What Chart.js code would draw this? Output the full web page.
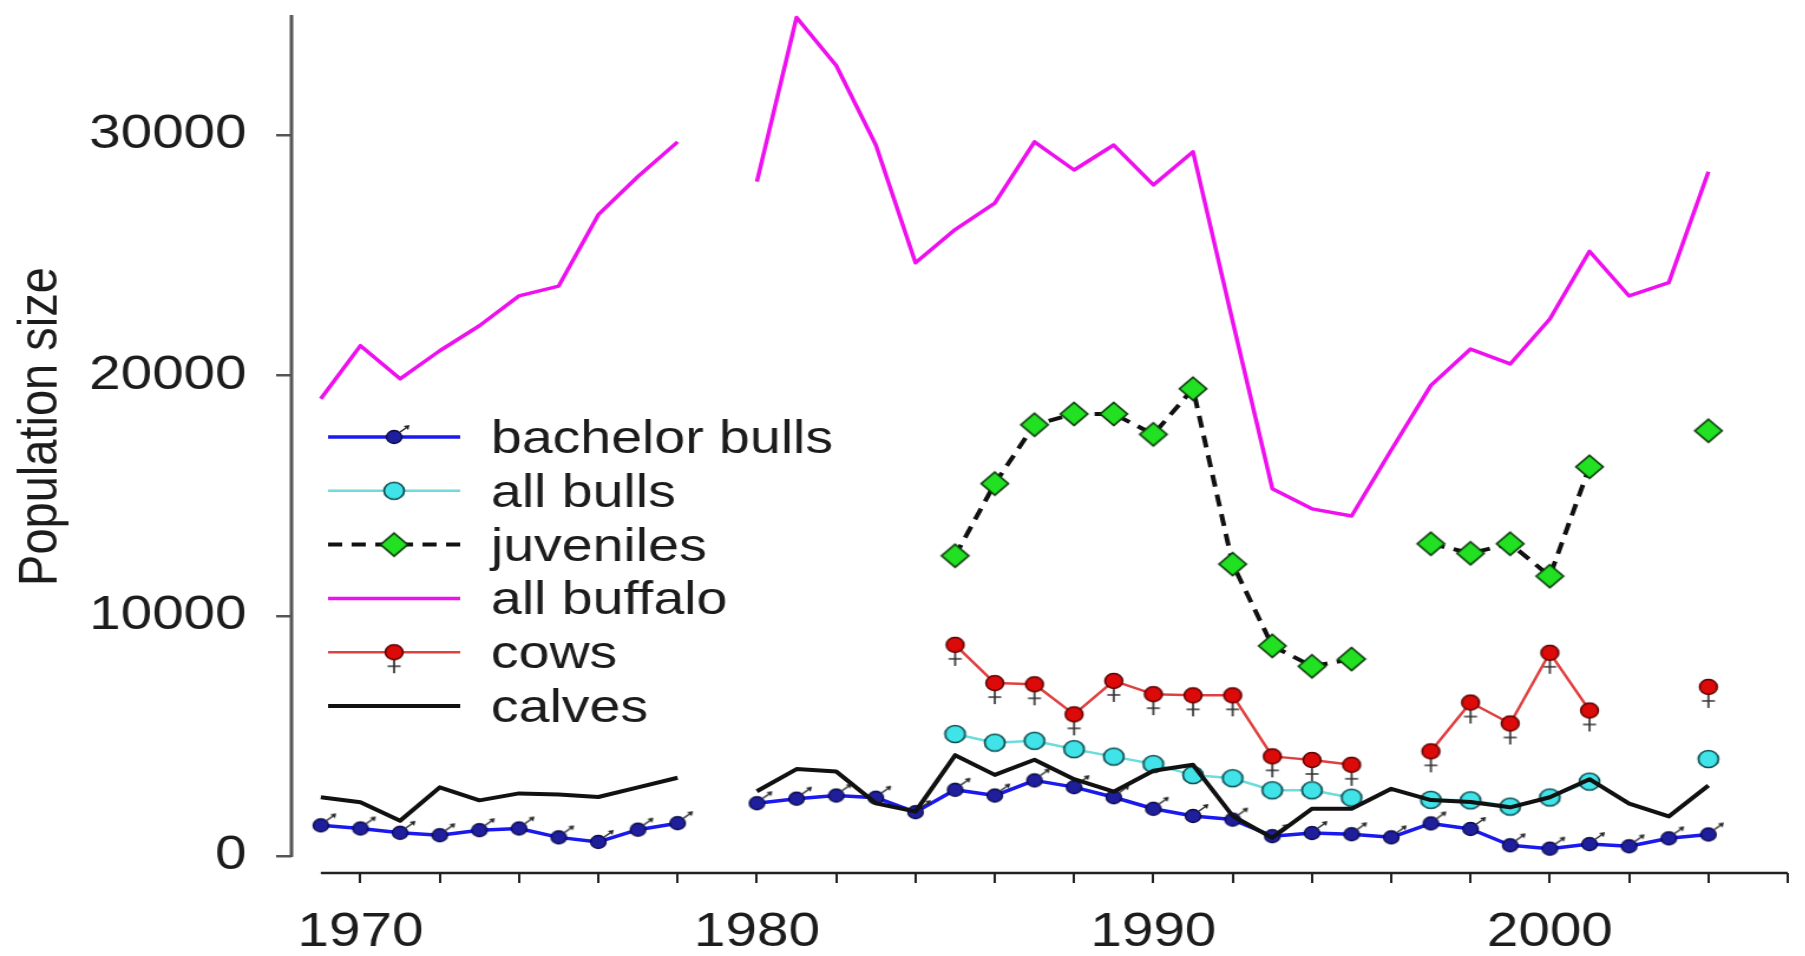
<!DOCTYPE html>
<html>
<head>
<meta charset="utf-8">
<title>Buffalo population size</title>
<script src="https://cdn.jsdelivr.net/npm/chart.js@4.4.1/dist/chart.umd.min.js"></script>
<style>
  html, body { margin: 0; padding: 0; background: #fff; overflow: hidden; }
  /* the original figure is stretched sideways, so the canvas is too */
  #wrap { width: 1530px; height: 956px; transform: scaleX(1.18); transform-origin: 0 0; }
</style>
</head>
<body>
<div id="wrap"><canvas id="chart" width="1530" height="956"></canvas></div>
<script>
const years = [1969, 1970, 1971, 1972, 1973, 1974, 1975, 1976, 1977, 1978, 1979,
  1980, 1981, 1982, 1983, 1984, 1985, 1986, 1987, 1988, 1989,
  1990, 1991, 1992, 1993, 1994, 1995, 1996, 1997, 1998, 1999,
  2000, 2001, 2002, 2003, 2004];

const bachelorBulls = [1280, 1150, 970, 870, 1080, 1150, 780, 590, 1100, 1370, null,
  2200, 2390, 2520, 2430, 1830, 2760, 2520, 3150, 2870, 2450,
  1970, 1670, 1520, 830, 960, 910, 780, 1360, 1130, 450,
  310, 500, 410, 740, 900];
const allBulls = [null, null, null, null, null, null, null, null, null, null, null,
  null, null, null, null, null, 5080, 4720, 4800, 4450, 4140,
  3830, 3370, 3240, 2740, 2740, 2430, null, 2340, 2320, 2060,
  2440, 3100, null, null, 4040];
const juveniles = [null, null, null, null, null, null, null, null, null, null, null,
  null, null, null, null, null, 12500, 15500, 17950, 18400, 18400,
  17550, 19450, 12150, 8750, 7900, 8200, null, 13000, 12600, 13000,
  11650, 16200, null, null, 17700];
const allBuffalo = [19030, 21240, 19860, 21030, 22070, 23310, 23720, 26690, 28280, 29720, null,
  28070, 34900, 32900, 29590, 24690, 26070, 27170, 29720, 28550, 29590,
  27930, 29310, 22250, 15290, 14450, 14150, 16900, 19590, 21100, 20480,
  22350, 25170, 23310, 23860, 28480];
const cows = [null, null, null, null, null, null, null, null, null, null, null,
  null, null, null, null, null, 8790, 7200, 7150, 5900, 7290,
  6740, 6690, 6690, 4150, 4000, 3800, null, 4360, 6390, 5520,
  8460, 6060, null, null, 7040];
const calves = [2450, 2240, 1470, 2860, 2320, 2610, 2560, 2460, 2860, 3260, null,
  2700, 3620, 3520, 2200, 1850, 4200, 3380, 4010, 3200, 2680,
  3550, 3800, 1670, 760, 1970, 1970, 2800, 2330, 2250, 2030,
  2450, 3200, 2180, 1650, 2940];

const yTicks = [0, 10000, 20000, 30000];
const xTicks = [1970, 1972, 1974, 1976, 1978, 1980, 1982, 1984, 1986, 1988,
  1990, 1992, 1994, 1996, 1998, 2000, 2002, 2004, 2006];
const xLabels = [1970, 1980, 1990, 2000];
const yTitle = 'Population size';

const FONT = '"Liberation Sans", Arial, Helvetica, sans-serif';
const TEXT = '#1c1c1c';
Chart.defaults.font.family = FONT;

// small canvases used as point symbols
function makeMarker(w, h, draw) {
  const c = document.createElement('canvas');
  c.width = w;
  c.height = h;
  draw(c.getContext('2d'), w / 2, h / 2);
  return c;
}

// male sign: navy dot with little arrow
const maleMarker = makeMarker(32, 32, (ctx, cx, cy) => {
  ctx.strokeStyle = '#222';
  ctx.lineWidth = 1.5;
  ctx.beginPath();
  ctx.moveTo(cx + 5, cy - 5);
  ctx.lineTo(cx + 10, cy - 9);
  ctx.stroke();
  ctx.fillStyle = '#222';
  ctx.beginPath();
  ctx.moveTo(cx + 13, cy - 12);
  ctx.lineTo(cx + 8, cy - 11);
  ctx.lineTo(cx + 12, cy - 7);
  ctx.closePath();
  ctx.fill();
  ctx.beginPath();
  ctx.arc(cx, cy, 6.5, 0, Math.PI * 2);
  ctx.fillStyle = '#1f1f9e';
  ctx.fill();
  ctx.lineWidth = 1.3;
  ctx.strokeStyle = '#0b0b45';
  ctx.stroke();
});

// female sign: red dot with a cross below
const femaleMarker = makeMarker(22, 46, (ctx, cx, cy) => {
  ctx.strokeStyle = '#333';
  ctx.lineWidth = 1.7;
  ctx.beginPath();
  ctx.moveTo(cx, cy + 8);
  ctx.lineTo(cx, cy + 21);
  ctx.moveTo(cx - 5.5, cy + 14);
  ctx.lineTo(cx + 5.5, cy + 14);
  ctx.stroke();
  ctx.beginPath();
  ctx.arc(cx, cy, 7.5, 0, Math.PI * 2);
  ctx.fillStyle = '#dd0a0a';
  ctx.fill();
  ctx.lineWidth = 1.5;
  ctx.strokeStyle = '#5a0000';
  ctx.stroke();
});

const cyanMarker = makeMarker(22, 22, (ctx, cx, cy) => {
  ctx.beginPath();
  ctx.arc(cx, cy, 8.5, 0, Math.PI * 2);
  ctx.fillStyle = '#40e4e8';
  ctx.fill();
  ctx.lineWidth = 1.7;
  ctx.strokeStyle = '#0e4b50';
  ctx.stroke();
});

const diamondMarker = makeMarker(28, 28, (ctx, cx, cy) => {
  const r = 11.5;
  ctx.beginPath();
  ctx.moveTo(cx, cy - r);
  ctx.lineTo(cx + r, cy);
  ctx.lineTo(cx, cy + r);
  ctx.lineTo(cx - r, cy);
  ctx.closePath();
  ctx.fillStyle = '#22e022';
  ctx.fill();
  ctx.lineWidth = 1.7;
  ctx.strokeStyle = '#0a3a0a';
  ctx.stroke();
});

const toPoints = (arr) => years.map((yr, i) => ({ x: yr, y: arr[i] }));

// axis lines drawn R-style (y axis stops at 0, x axis sits a little lower)
// plus the y axis title, placed a bit above the middle as in the original
const axisLines = {
  id: 'axisLines',
  beforeDatasetsDraw(chart) {
    const { ctx, chartArea, scales: { x, y } } = chart;
    ctx.save();
    ctx.strokeStyle = '#555';
    ctx.lineWidth = 3;
    ctx.beginPath();
    ctx.moveTo(chartArea.left, y.getPixelForValue(yTicks[0]) + 1);
    ctx.lineTo(chartArea.left, chartArea.top);
    ctx.stroke();
    ctx.strokeStyle = '#222';
    ctx.lineWidth = 2.5;
    ctx.beginPath();
    ctx.moveTo(x.getPixelForValue(years[0]), chartArea.bottom);
    ctx.lineTo(x.getPixelForValue(xTicks[xTicks.length - 1]), chartArea.bottom);
    ctx.stroke();

    const midY = (y.getPixelForValue(yTicks[0]) + chartArea.top) / 2 - 9;
    ctx.translate(35, midY);
    ctx.rotate(-Math.PI / 2);
    ctx.fillStyle = TEXT;
    ctx.font = '47px ' + FONT;
    ctx.textAlign = 'center';
    ctx.textBaseline = 'middle';
    ctx.fillText(yTitle, 0, 0);
    ctx.restore();
  }
};

// legend with line + symbol samples, inside the plot
const legendBox = {
  id: 'legendBox',
  afterDatasetsDraw(chart) {
    const ctx = chart.ctx;
    const lineX0 = 278, lineX1 = 390, markX = 334, textX = 416;
    const rowY0 = 437, rowH = 53.8;
    chart.data.datasets.forEach((ds, i) => {
      const yy = rowY0 + i * rowH;
      ctx.save();
      ctx.strokeStyle = ds.borderColor;
      ctx.lineWidth = ds.borderWidth;
      ctx.setLineDash(ds.borderDash || []);
      ctx.beginPath();
      ctx.moveTo(lineX0, yy);
      ctx.lineTo(lineX1, yy);
      ctx.stroke();
      ctx.setLineDash([]);
      if (ds.pointStyle instanceof HTMLCanvasElement) {
        const m = ds.pointStyle;
        ctx.drawImage(m, markX - m.width / 2, yy - m.height / 2);
      }
      ctx.fillStyle = TEXT;
      ctx.font = '47px ' + FONT;
      ctx.textBaseline = 'middle';
      ctx.fillText(ds.label, textX, yy + 3);
      ctx.restore();
    });
  }
};

new Chart(document.getElementById('chart'), {
  type: 'line',
  plugins: [axisLines, legendBox],
  data: {
    datasets: [
      {
        label: 'bachelor bulls',
        data: toPoints(bachelorBulls),
        borderColor: '#1a1aee',
        borderWidth: 3.5,
        pointStyle: maleMarker,
        pointRadius: 7,
        order: 5
      },
      {
        label: 'all bulls',
        data: toPoints(allBulls),
        borderColor: '#6cdcdc',
        borderWidth: 2.5,
        pointStyle: cyanMarker,
        pointRadius: 9,
        order: 6
      },
      {
        label: 'juveniles',
        data: toPoints(juveniles),
        borderColor: '#111',
        borderWidth: 4,
        borderDash: [12, 8],
        pointStyle: diamondMarker,
        pointRadius: 11,
        order: 3
      },
      {
        label: 'all buffalo',
        data: toPoints(allBuffalo),
        borderColor: '#ee10ee',
        borderWidth: 3.5,
        pointRadius: 0,
        order: 4
      },
      {
        label: 'cows',
        data: toPoints(cows),
        borderColor: '#e04040',
        borderWidth: 2.5,
        pointStyle: femaleMarker,
        pointRadius: 8,
        order: 2
      },
      {
        label: 'calves',
        data: toPoints(calves),
        borderColor: '#111',
        borderWidth: 4,
        pointRadius: 0,
        order: 1
      }
    ]
  },
  options: {
    responsive: false,
    animation: false,
    spanGaps: false,
    elements: { line: { tension: 0, borderJoinStyle: 'round' } },
    layout: { padding: { top: 10, right: 7, left: 0, bottom: 0 } },
    plugins: {
      legend: { display: false },
      tooltip: { enabled: false }
    },
    scales: {
      x: {
        type: 'linear',
        min: 1968.26,
        max: 2006,
        border: { display: false },
        grid: { drawOnChartArea: false, tickLength: 10, color: '#222', lineWidth: 2 },
        ticks: {
          autoSkip: false,
          maxRotation: 0,
          padding: 21,
          color: TEXT,
          font: { size: 48 },
          callback: (v) => xLabels.includes(v) ? String(v) : ''
        },
        afterBuildTicks: (s) => { s.ticks = xTicks.map(v => ({ value: v })); },
        afterFit: (s) => { s.height = 83; s.paddingLeft = 0; s.paddingRight = 0; }
      },
      y: {
        min: -703,
        max: 35000,
        border: { display: false },
        grid: { drawOnChartArea: false, tickLength: 13, color: '#555', lineWidth: 2.5 },
        ticks: {
          padding: 25,
          color: TEXT,
          font: { size: 48 },
          callback: (v) => String(v)
        },
        afterBuildTicks: (s) => { s.ticks = yTicks.map(v => ({ value: v })); },
        afterFit: (s) => { s.width = 247; s.paddingTop = 0; s.paddingBottom = 0; }
      }
    }
  }
});
</script>
</body>
</html>
